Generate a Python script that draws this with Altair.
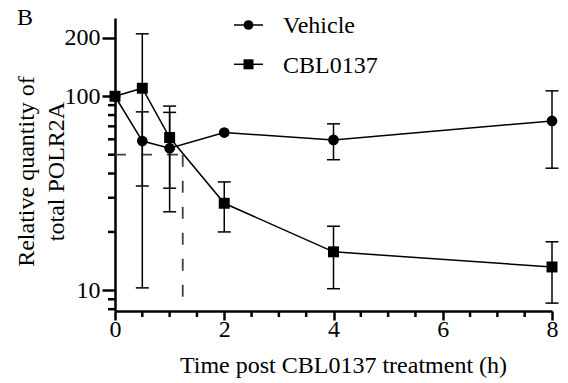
import altair as alt
import pandas as pd

# ---- data ----
series_names = ["Vehicle", "CBL0137"]
times = [0, 0.5, 1, 2, 4, 8]
vehicle_mean = [100, 58.8, 54, 65, 59.6, 74.6]
vehicle_sd = [0, 24.3, 28.6, 0, 12.5, 32]
cbl_mean = [100, 110, 61.3, 28.1, 15.8, 13.2]
cbl_sd = [0, 99.7, 27.7, 8.1, 5.6, 4.6]

half_life = 1.24
half_level = 50

x_domain = [0, 8]
y_domain = [7.83, 253]
x_major_ticks = [0, 2, 4, 6, 8]
x_minor_ticks = [0.5, 1, 1.5, 2.5, 3, 3.5, 4.5, 5, 5.5, 6.5, 7, 7.5]
y_major_ticks = [10, 100, 200]
y_minor_ticks = [8, 9, 20, 30, 40, 50, 60, 70, 80, 90]

x_title = "Time post CBL0137 treatment (h)"
y_title = ["Relative quantity of", "total POLR2A"]
panel_label = "B"

FONT = "Liberation Serif"

rows = []
for name, means, sds in [(series_names[0], vehicle_mean, vehicle_sd),
                         (series_names[1], cbl_mean, cbl_sd)]:
    for t, m, s in zip(times, means, sds):
        rows.append(dict(series=name, time=t, mean=m, lo=m - s, hi=m + s, sd=s))
df = pd.DataFrame(rows)
err_df = df[df["sd"] > 0]

x_scale = alt.Scale(domain=x_domain, nice=False, zero=False)
y_scale = alt.Scale(type="log", domain=y_domain, nice=False)

x_axis = alt.Axis(
    values=x_major_ticks,
    format="d",
    tickSize=9,
    labelPadding=16,
    labelBaseline="alphabetic",
    labelFlush=False,
    labelOverlap=False,
    labelFont=FONT,
    labelFontSize=24,
    labelColor="black",
    titleFont=FONT,
    titleFontSize=24,
    titleFontWeight="normal",
    titleColor="black",
    titleX=228,
    titleY=61,
    titleBaseline="alphabetic",
    titleAlign="center",
)
y_axis = alt.Axis(
    values=y_major_ticks,
    format="d",
    tickSize=13,
    labelPadding=2,
    labelBaseline="middle",
    labelAlign="right",
    labelOverlap=False,
    labelFlush=False,
    labelFont=FONT,
    labelFontSize=24,
    labelColor="black",
    titleFont=FONT,
    titleFontSize=24,
    titleFontWeight="normal",
    titleColor="black",
    titleAngle=270,
    titleX=-82,
    titleY=153,
    titleBaseline="alphabetic",
    titleAlign="center",
    titleLineHeight=30,
)


def X(field):
    return alt.X(field, type="quantitative", scale=x_scale, axis=x_axis, title=x_title)


def Y(field):
    return alt.Y(field, type="quantitative", scale=y_scale, axis=y_axis, title=y_title)


# minor ticks drawn as rules on the data scales
xminor = alt.Chart(pd.DataFrame({"xv": x_minor_ticks})).mark_rule(color="black", strokeWidth=2.5).encode(
    x=X("xv"), y=alt.value(293), y2=alt.value(299))
yminor = alt.Chart(pd.DataFrame({"yv": y_minor_ticks})).mark_rule(color="black", strokeWidth=2.5).encode(
    y=Y("yv"), x=alt.value(-7), x2=alt.value(0))

# dashed half-life guide lines
guide = pd.DataFrame({"x0": [x_domain[0]], "x1": [half_life],
                      "y": [half_level], "ymin": [y_domain[0]]})
dash_h = alt.Chart(guide).mark_rule(strokeDash=[11, 15], color="#404040", strokeWidth=1.8).encode(
    x=X("x0"), x2="x1", y=Y("y"))
dash_v = alt.Chart(guide).mark_rule(strokeDash=[12, 14], color="#404040", strokeWidth=1.8).encode(
    x=X("x1"), y=Y("y"), y2="ymin")

# error bars
err_rule = alt.Chart(err_df).mark_rule(color="black", strokeWidth=1.5).encode(
    x=X("time"), y=Y("lo"), y2="hi")
cap_hi = alt.Chart(err_df).mark_rule(color="black", strokeWidth=1.5, xOffset=-6.5, x2Offset=6.5).encode(
    x=X("time"), x2="time", y=Y("hi"))
cap_lo = alt.Chart(err_df).mark_rule(color="black", strokeWidth=1.5, xOffset=-6.5, x2Offset=6.5).encode(
    x=X("time"), x2="time", y=Y("lo"))

lines = alt.Chart(df).mark_line(color="black", strokeWidth=1.5).encode(
    x=X("time"), y=Y("mean"), detail="series:N", order="time:Q")

points = alt.Chart(df).mark_point(filled=True, color="black", opacity=1).encode(
    x=X("time"), y=Y("mean"),
    shape=alt.Shape("series:N", scale=alt.Scale(domain=series_names, range=["circle", "square"]), legend=None),
    size=alt.Size("series:N", scale=alt.Scale(domain=series_names, range=[115, 120]), legend=None),
)

# manual legend
legend_layers = []
legend_rows = [(series_names[0], "circle", 7, 14.7, 95), (series_names[1], "square", 46.3, 54.7, 100)]
for name, shp, yc, yb, sz in legend_rows:
    ld = pd.DataFrame({"series": [name]})
    legend_layers.append(alt.Chart(ld).mark_rule(color="black", strokeWidth=1.5).encode(
        x=alt.value(119), x2=alt.value(148), y=alt.value(yc)))
    legend_layers.append(alt.Chart(ld).mark_point(filled=True, color="black", opacity=1, shape=shp, size=sz).encode(
        x=alt.value(133.5), y=alt.value(yc)))
    legend_layers.append(alt.Chart(ld).mark_text(font=FONT, fontSize=24, color="black", align="left",
                                                 baseline="alphabetic").encode(
        x=alt.value(168), y=alt.value(yb), text="series:N"))

label_df = pd.DataFrame({"t": [panel_label]})
label = alt.Chart(label_df).mark_text(font=FONT, fontSize=24, color="black", align="left",
                                      baseline="alphabetic").encode(
    x=alt.value(-98), y=alt.value(7), text="t:N")

chart = alt.layer(dash_h, dash_v, err_rule, cap_hi, cap_lo, lines, points, xminor, yminor,
                  *legend_layers, label).properties(
    width=437, height=293,
    padding={"left": 115, "top": 18, "right": 16, "bottom": 72},
    autosize=alt.AutoSizeParams(type="none"),
    background="white",
).configure_view(stroke=None).configure_axis(
    grid=False,
    domainColor="black",
    domainWidth=2.5,
    tickColor="black",
    tickWidth=2.5,
    labelFont=FONT,
    labelFontSize=24,
    labelColor="black",
    titleFont=FONT,
    titleFontSize=24,
    titleColor="black",
    titleFontWeight="normal",
)

chart.save("out.html", embed_options={"renderer": "svg", "actions": False})
